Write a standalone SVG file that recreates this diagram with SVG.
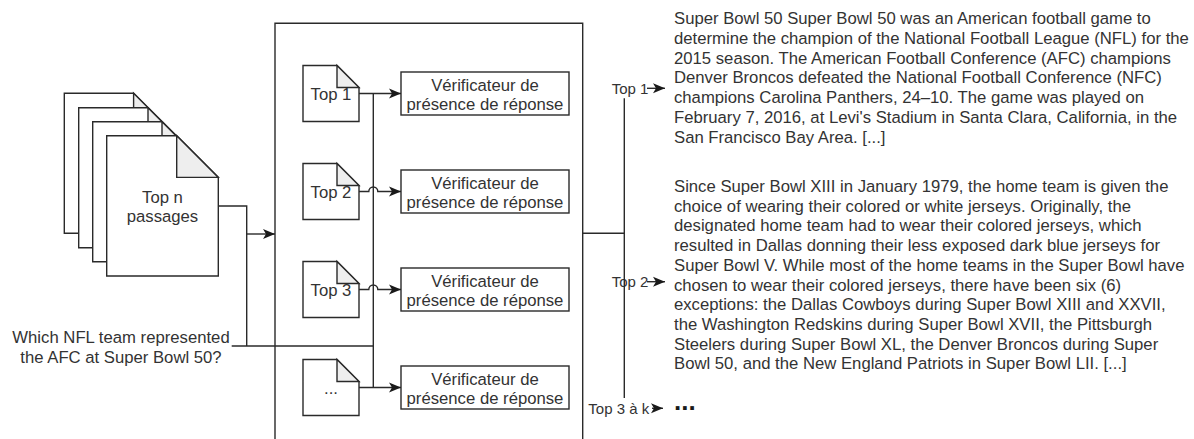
<svg xmlns="http://www.w3.org/2000/svg" width="1194" height="439" viewBox="0 0 1194 439">
<style>
  .ln { fill: none; stroke: #2a2a2a; stroke-width: 1.4; }
  .shape { fill: #ffffff; stroke: #2a2a2a; stroke-width: 1.4; }
  .fold { fill: #eeeeee; stroke: #2a2a2a; stroke-width: 1.4; stroke-linejoin: miter; }
  text { font-family: "Liberation Sans", Arial, sans-serif; fill: #333333; font-size: 16.7px; }
  .mid { text-anchor: middle; }
  .lbl { font-size: 15px; }
</style>
<defs>
  <marker id="arr" markerUnits="userSpaceOnUse" markerWidth="13" markerHeight="11" refX="12" refY="5" orient="auto" overflow="visible">
    <path d="M0,0 L12,5 L0,10 L3,5 Z" fill="#1a1a1a" stroke="none"/>
  </marker>
</defs>
<rect width="1194" height="439" fill="#ffffff"/>

<g id="container">
  <path class="ln" d="M275,445 V23.3 H582.7 V445"/>
</g>

<g id="passages">
  <path class="shape" d="M64.3,93.3 H133.6 L175.3,135 V233.3 H64.3 Z"/>
  <path class="fold" d="M133.6,93.3 V135 H175.3 Z"/>
  <path class="shape" d="M78.7,107.7 H148 L189.7,149.4 V247.7 H78.7 Z"/>
  <path class="fold" d="M148,107.7 V149.4 H189.7 Z"/>
  <path class="shape" d="M92.7,121.7 H162 L203.7,163.4 V261.7 H92.7 Z"/>
  <path class="fold" d="M162,121.7 V163.4 H203.7 Z"/>
  <path class="shape" d="M106.7,135.7 H176.7 L218.3,177.4 V276 H106.7 Z"/>
  <path class="fold" d="M176.7,135.7 V177.4 H218.3 Z"/>
  <text class="mid" x="162.5" y="202.7">Top n</text>
  <text class="mid" x="162.5" y="222">passages</text>
</g>

<g id="question">
  <text class="mid" x="121" y="342.7">Which NFL team represented</text>
  <text class="mid" x="121" y="362.7">the AFC at Super Bowl 50?</text>
</g>

<g id="doc1">
  <path class="shape" d="M303,65.5 H337 L359,87.5 V121.5 H303 Z"/>
  <path class="fold" d="M337,65.5 V87.5 H359 Z"/>
  <text class="mid" x="331" y="99.5">Top 1</text>
</g>
<g id="doc2">
  <path class="shape" d="M303,163.5 H337 L359,185.5 V219.5 H303 Z"/>
  <path class="fold" d="M337,163.5 V185.5 H359 Z"/>
  <text class="mid" x="331" y="197.5">Top 2</text>
</g>
<g id="doc3">
  <path class="shape" d="M303,261.5 H337 L359,283.5 V317.5 H303 Z"/>
  <path class="fold" d="M337,261.5 V283.5 H359 Z"/>
  <text class="mid" x="331" y="295.5">Top 3</text>
</g>
<g id="doc4">
  <path class="shape" d="M303,359.5 H337 L359,381.5 V415.5 H303 Z"/>
  <path class="fold" d="M337,359.5 V381.5 H359 Z"/>
  <text class="mid" x="331" y="393.5">...</text>
</g>

<g id="check1">
  <rect class="shape" x="401" y="72" width="168" height="43"/>
  <text class="mid" x="485" y="91">Vérificateur de</text>
  <text class="mid" x="485" y="110">présence de réponse</text>
</g>
<g id="check2">
  <rect class="shape" x="401" y="170" width="168" height="43"/>
  <text class="mid" x="485" y="189">Vérificateur de</text>
  <text class="mid" x="485" y="208">présence de réponse</text>
</g>
<g id="check3">
  <rect class="shape" x="401" y="268" width="168" height="43"/>
  <text class="mid" x="485" y="287">Vérificateur de</text>
  <text class="mid" x="485" y="306">présence de réponse</text>
</g>
<g id="check4">
  <rect class="shape" x="401" y="366" width="168" height="43"/>
  <text class="mid" x="485" y="385">Vérificateur de</text>
  <text class="mid" x="485" y="404">présence de réponse</text>
</g>

<g id="results">
  <text x="674" y="24.3">Super Bowl 50 Super Bowl 50 was an American football game to</text>
  <text x="674" y="44">determine the champion of the National Football League (NFL) for the</text>
  <text x="674" y="63.7">2015 season. The American Football Conference (AFC) champions</text>
  <text x="674" y="83.4">Denver Broncos defeated the National Football Conference (NFC)</text>
  <text x="674" y="103.1">champions Carolina Panthers, 24–10. The game was played on</text>
  <text x="674" y="122.8">February 7, 2016, at Levi's Stadium in Santa Clara, California, in the</text>
  <text x="674" y="142.5">San Francisco Bay Area. [...]</text>

  <text x="674" y="192">Since Super Bowl XIII in January 1979, the home team is given the</text>
  <text x="674" y="211.7">choice of wearing their colored or white jerseys. Originally, the</text>
  <text x="674" y="231.4">designated home team had to wear their colored jerseys, which</text>
  <text x="674" y="251.1">resulted in Dallas donning their less exposed dark blue jerseys for</text>
  <text x="674" y="270.8">Super Bowl V. While most of the home teams in the Super Bowl have</text>
  <text x="674" y="290.5">chosen to wear their colored jerseys, there have been six (6)</text>
  <text x="674" y="310.2">exceptions: the Dallas Cowboys during Super Bowl XIII and XXVII,</text>
  <text x="674" y="329.9">the Washington Redskins during Super Bowl XVII, the Pittsburgh</text>
  <text x="674" y="349.6">Steelers during Super Bowl XL, the Denver Broncos during Super</text>
  <text x="674" y="369.3">Bowl 50, and the New England Patriots in Super Bowl LII. [...]</text>

  <text class="lbl" x="611.7" y="93.7">Top 1</text>
  <text class="lbl" x="611.7" y="287">Top 2</text>
  <text class="lbl" x="588.3" y="413.7">Top 3 à k</text>
  <text x="674" y="410" style="font-size:26px;font-weight:bold;fill:#1a1a1a">...</text>
</g>

<g id="connectors">
  <path class="ln" d="M218.3,206 H246.7 V346"/>
  <path class="ln" d="M246.7,234 H275" marker-end="url(#arr)"/>
  <path class="ln" d="M231.7,346 H373.3"/>
  <path class="ln" d="M373.3,93.5 V387.5"/>
  <path class="ln" d="M359,93.5 H401" marker-end="url(#arr)"/>
  <path class="ln" d="M359,191.5 H368.8 A4.5,4.5 0 0 1 377.8,191.5 H401" marker-end="url(#arr)"/>
  <path class="ln" d="M359,289.5 H368.8 A4.5,4.5 0 0 1 377.8,289.5 H401" marker-end="url(#arr)"/>
  <path class="ln" d="M359,387.5 H401" marker-end="url(#arr)"/>
  <path class="ln" d="M582.7,233.3 H624.3"/>
  <path class="ln" d="M624.3,98.3 V398"/>
  <path class="ln" d="M647,88.3 H665" marker-end="url(#arr)"/>
  <path class="ln" d="M647,281.7 H665" marker-end="url(#arr)"/>
  <path class="ln" d="M652,408.3 H663" marker-end="url(#arr)"/>
</g>
</svg>
